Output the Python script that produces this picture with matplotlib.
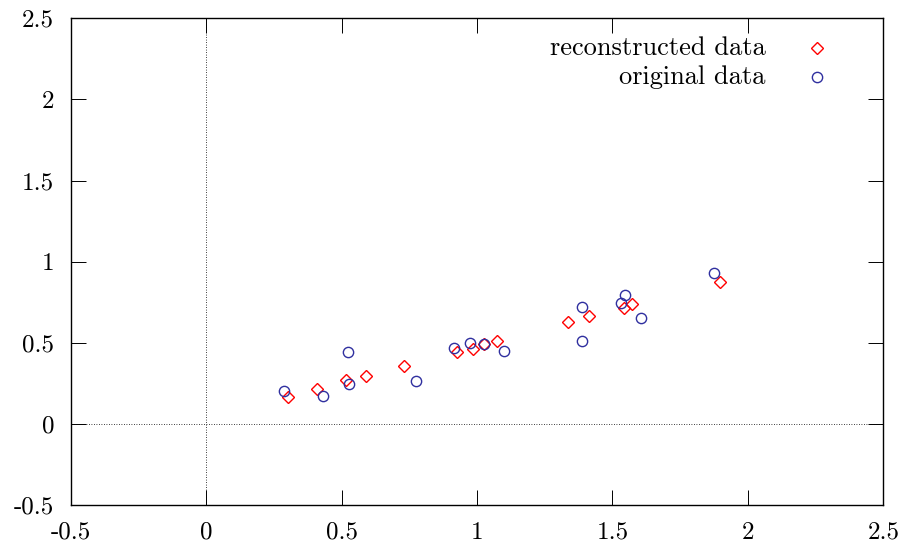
import matplotlib
matplotlib.use("Agg")
import matplotlib.pyplot as plt
from matplotlib.ticker import FixedLocator, FixedFormatter

plt.rcParams['font.family'] = ['cmr10', 'DejaVu Serif']
plt.rcParams['axes.unicode_minus'] = False
plt.rcParams['axes.formatter.use_mathtext'] = False

# reconstructed data (diamonds)
rec_x = [0.303, 0.411, 0.516, 0.591, 0.732, 0.927, 0.984, 1.027, 1.074, 1.335, 1.415, 1.541, 1.573, 1.897]
rec_y = [0.166, 0.218, 0.269, 0.297, 0.359, 0.443, 0.463, 0.490, 0.510, 0.627, 0.662, 0.713, 0.736, 0.877]

# original data (circles)
orig_x = [0.286, 0.431, 0.524, 0.528, 0.773, 0.916, 0.973, 1.027, 1.101, 1.388, 1.388, 1.532, 1.545, 1.607, 1.874]
orig_y = [0.205, 0.172, 0.445, 0.245, 0.262, 0.465, 0.498, 0.492, 0.449, 0.722, 0.510, 0.744, 0.795, 0.654, 0.928]

ticks = [-0.5, 0, 0.5, 1, 1.5, 2, 2.5]
tick_labels = ["-0.5", "0", "0.5", "1", "1.5", "2", "2.5"]

fig = plt.figure(figsize=(9.07, 5.49), dpi=100)
left, right, bottom, top = 70.7 / 907, 883.3 / 907, 1 - 505 / 549, 1 - 18.3 / 549
ax = fig.add_axes([left, bottom, right - left, top - bottom])

ax.set_xlim(-0.5, 2.5)
ax.set_ylim(-0.5, 2.5)

ax.axhline(0, color='black', lw=0.6, ls=(0, (1, 2)), zorder=1)
ax.axvline(0, color='black', lw=0.6, ls=(0, (1, 2)), zorder=1)

red = '#ff0000'
blue = '#2f2f9f'
ax.plot(rec_x, rec_y, ls='none', marker='D', markersize=6.3, markerfacecolor='none',
        markeredgecolor=red, markeredgewidth=1.0, zorder=3)
ax.plot(orig_x, orig_y, ls='none', marker='o', markersize=7.4, markerfacecolor='none',
        markeredgecolor=blue, markeredgewidth=1.0, zorder=3)

for a in (ax.xaxis, ax.yaxis):
    a.set_major_locator(FixedLocator(ticks))
    a.set_major_formatter(FixedFormatter(tick_labels))
ax.tick_params(direction='in', top=True, right=True, length=11, width=0.7,
               labelsize=18, colors='black')
ax.tick_params(axis='x', pad=12)
ax.tick_params(axis='y', pad=12)
for s in ax.spines.values():
    s.set_linewidth(1.0)

# legend drawn at right, text right-aligned, marker after the text
fs = 19
ax.text(0.8548, 0.9385, "reconstructed data", transform=ax.transAxes, ha='right', va='center', fontsize=fs)
ax.text(0.8548, 0.8790, "original data", transform=ax.transAxes, ha='right', va='center', fontsize=fs)
ax.plot([0.9188], [0.9385], transform=ax.transAxes, ls='none', marker='D', markersize=6.3,
        markerfacecolor='none', markeredgecolor=red, markeredgewidth=1.0, clip_on=False)
ax.plot([0.9188], [0.8790], transform=ax.transAxes, ls='none', marker='o', markersize=7.4,
        markerfacecolor='none', markeredgecolor=blue, markeredgewidth=1.0, clip_on=False)

fig.savefig("out.png", dpi=100)
